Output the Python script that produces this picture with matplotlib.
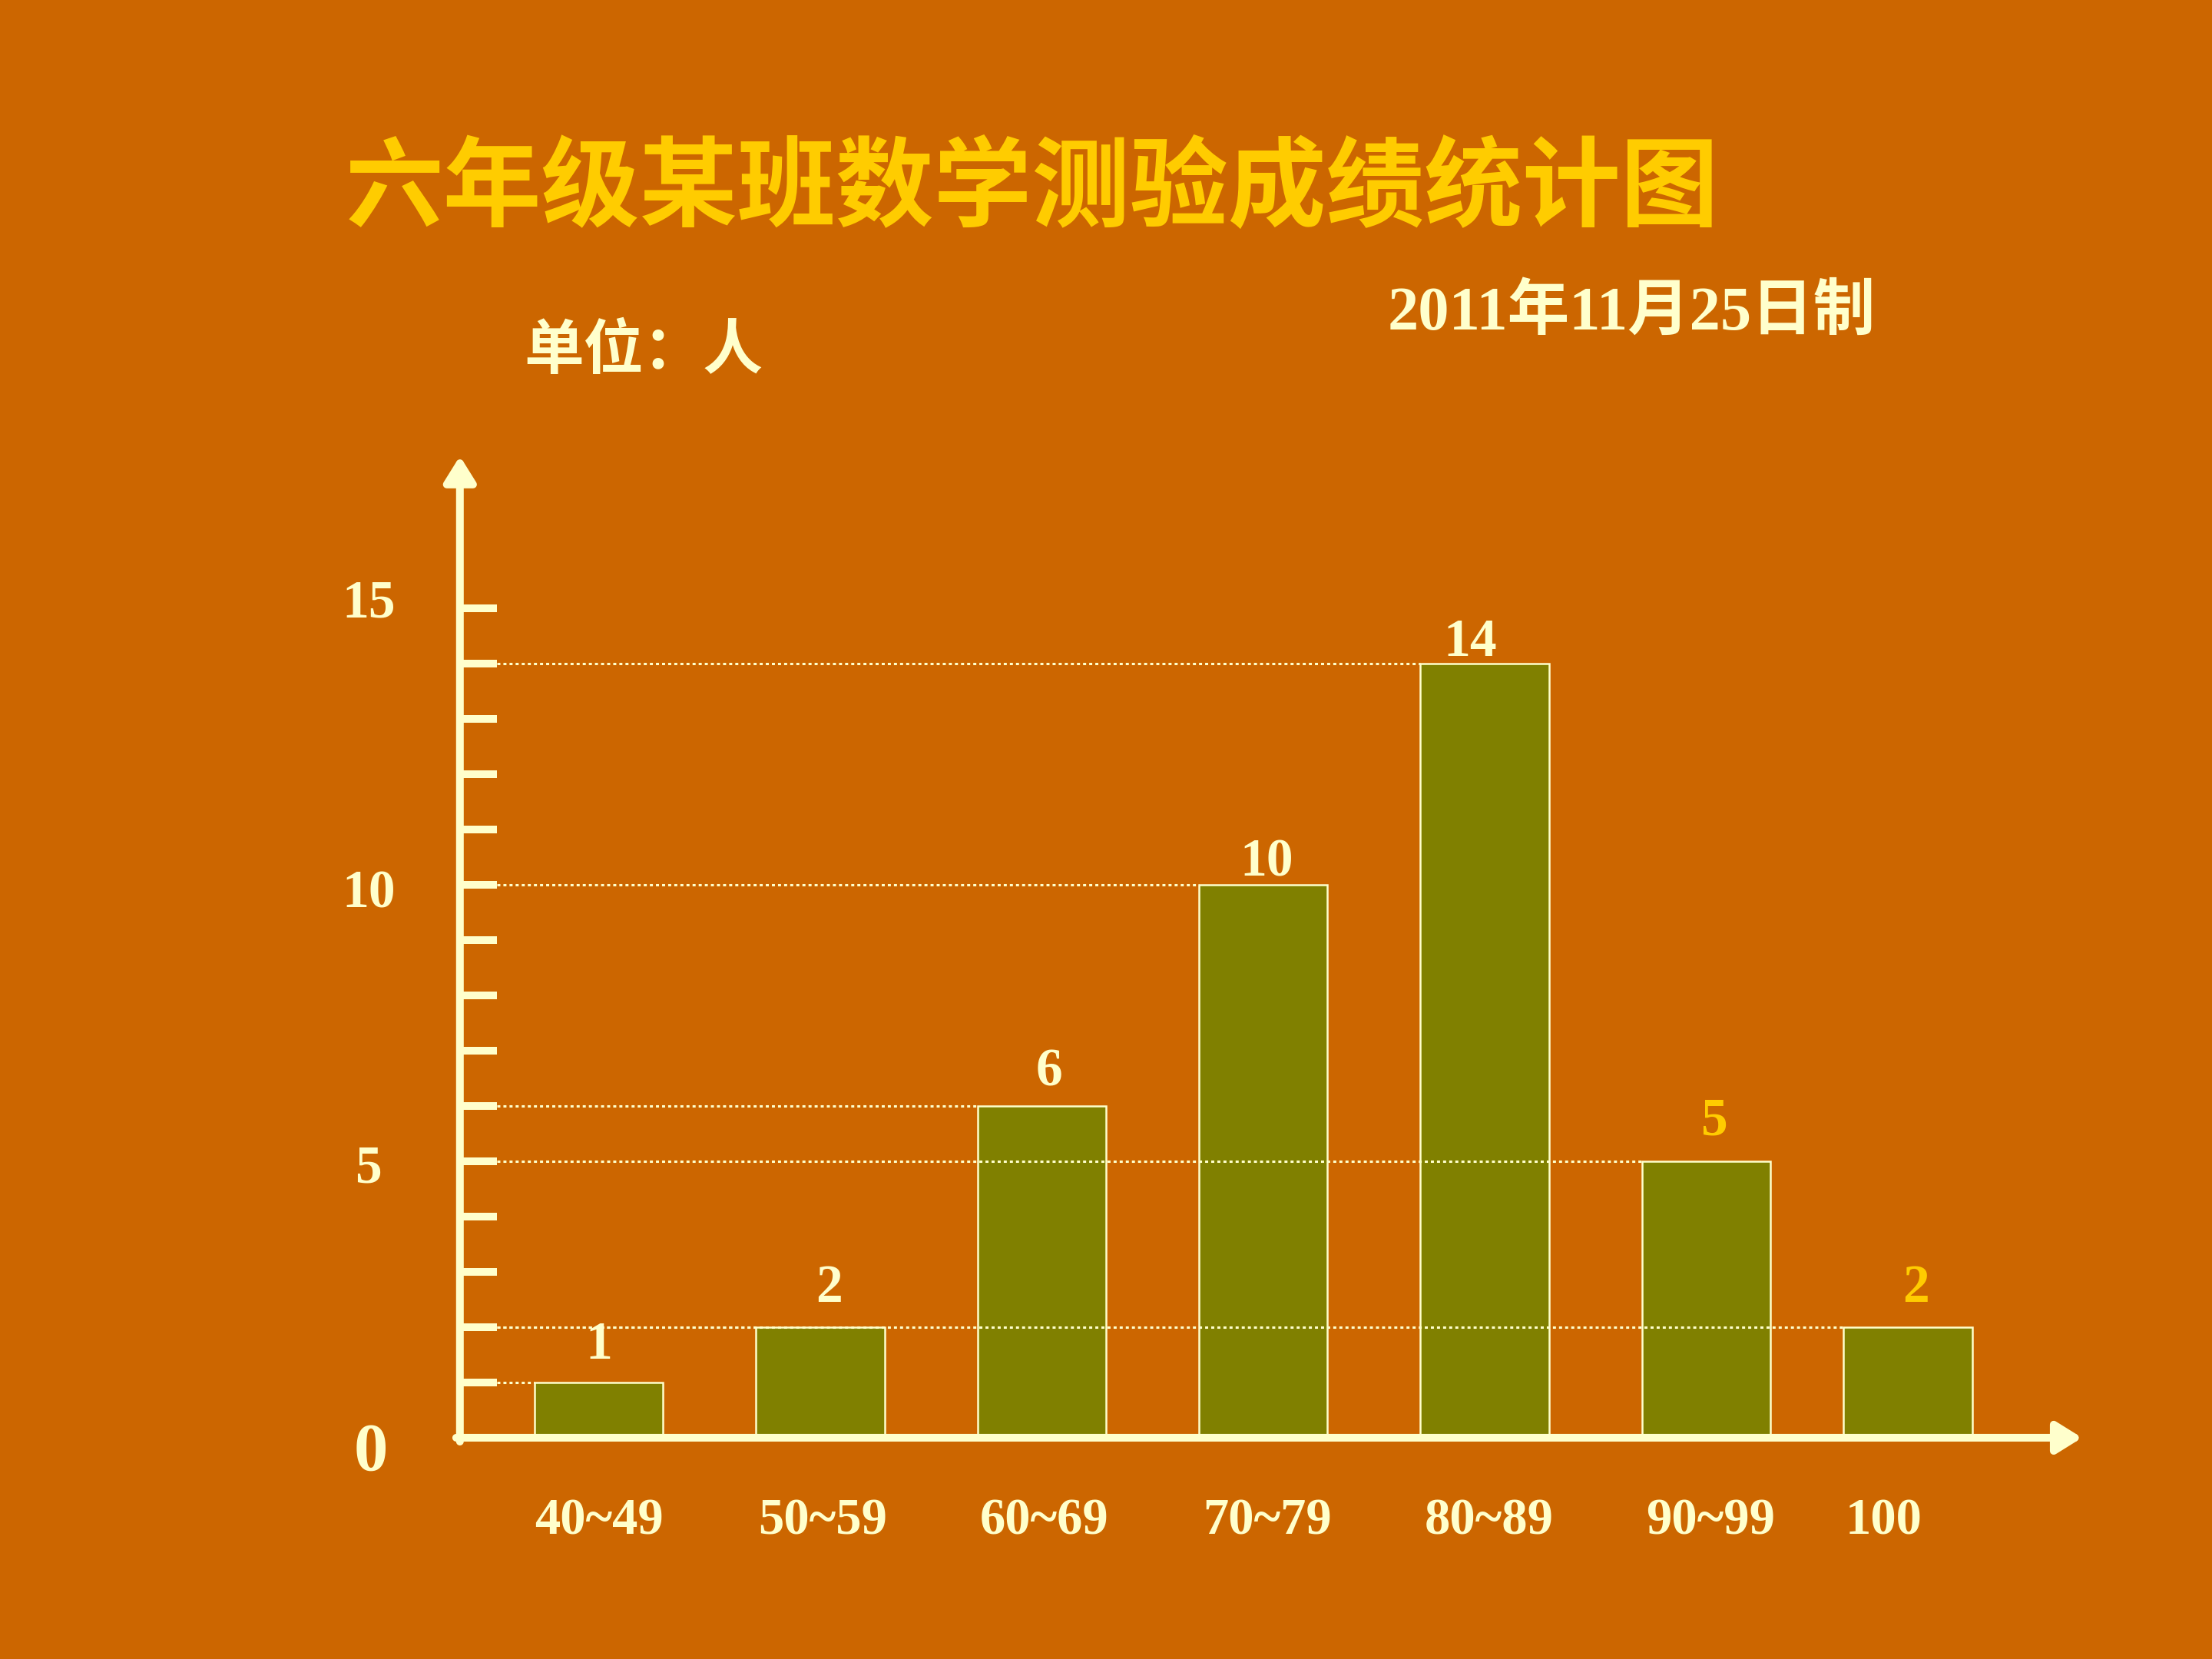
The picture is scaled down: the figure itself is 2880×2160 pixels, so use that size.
import numpy as np
import matplotlib
matplotlib.use('Agg')
import matplotlib.pyplot as plt

# data
categories = ['40~49', '50~59', '60~69', '70~79', '80~89', '90~99', '100']
counts = [1, 2, 6, 10, 14, 5, 2]
y_ticks = [5, 10, 15]
title = '六年级某班数学测验成绩统计图'
date_note = '2011年11月25日制'
unit_note = '单位：人'

# colours
BG = '#CC6600'
CREAM = '#FFFFCC'
GOLD = '#FFCC00'
OLIVE = '#808000'
label_colors = [CREAM, CREAM, CREAM, CREAM, CREAM, GOLD, GOLD]

# layout (data units)
xpos = np.arange(len(categories), dtype=float)
xpos[-1] -= 0.09
bar_w = 0.58
x_axis = -0.627
tick_len = 0.166
label_dx = [0.0, 0.04, 0.035, 0.016, -0.067, 0.035, 0.035]
label_dy = [0.66, 0.7, 0.6, 0.4, 0.38, 0.72, 0.7]
cat_dx = [0.0, 0.01, 0.01, 0.02, 0.02, 0.02, -0.11]
tick_dy = [-0.15, -0.18, 0.08]

SERIF = ['Liberation Serif', 'Noto Sans CJK SC']
CJK = ['Noto Sans CJK SC', 'DejaVu Sans']
ARROW = dict(arrowstyle='-|>,head_length=0.45,head_width=0.28',
             mutation_scale=22, color=CREAM, lw=3.6, shrinkA=0, shrinkB=0)

fig = plt.figure(figsize=(14.4, 10.8), dpi=200, facecolor=BG)
ax = fig.add_axes([0.1956, 0.1167, 0.7610, 0.6167])
ax.set_facecolor(BG)
ax.set_xlim(-0.75, 6.85)
ax.set_ylim(-0.5, 18)
ax.axis('off')

# bars
ax.bar(xpos, counts, width=bar_w, color=OLIVE, edgecolor=CREAM,
       linewidth=0.9, zorder=2)

# dotted guide lines from the axis to each bar
for x, v in zip(xpos, counts):
    ax.plot([x_axis + tick_len, x - bar_w / 2], [v, v], color=CREAM,
            linewidth=1.1, linestyle=(0, (1.3, 1.3)), zorder=3,
            dash_capstyle='butt')

# axes with arrows
ax.annotate('', xy=(x_axis, 17.75), xytext=(x_axis, -0.07),
            arrowprops=ARROW, zorder=4, annotation_clip=False)
ax.annotate('', xy=(6.697, 0), xytext=(x_axis - 0.017, 0),
            arrowprops=ARROW, zorder=4, annotation_clip=False)

# tick marks
for t in range(1, 16):
    ax.plot([x_axis, x_axis + tick_len], [t, t], color=CREAM, lw=3.6,
            solid_capstyle='butt', zorder=4)

# tick labels
for t, dy in zip(y_ticks, tick_dy):
    ax.text(-1.04, t + dy, str(t), color=CREAM, fontsize=25,
            fontweight='bold', family=SERIF, ha='center', va='center')
ax.text(-1.03, -0.28, '0', color=CREAM, fontsize=32, fontweight='bold',
        family=SERIF, ha='center', va='center')

# value labels
for x, v, c, dx, dy in zip(xpos, counts, label_colors, label_dx, label_dy):
    ax.text(x + dx, v + dy, str(v), color=c, fontsize=25, fontweight='bold',
            family=SERIF, ha='center', va='center', zorder=5)

# category labels
for x, name, dx in zip(xpos, categories, cat_dx):
    ax.text(x + dx, -1.51, name, color=CREAM, fontsize=24, fontweight='bold',
            family=SERIF, ha='center', va='center')

# titles
fig.text(0.4665, 0.8855, title, color=GOLD, fontsize=46, fontweight='bold',
         family=CJK, ha='center', va='center')
fig.text(0.7376, 0.8112, date_note, color=CREAM, fontsize=29,
         fontweight='bold', family=SERIF, ha='center', va='center')
fig.text(0.2908, 0.7885, unit_note, color=CREAM, fontsize=28,
         fontweight='bold', family=CJK, ha='center', va='center')

fig.savefig('out.png', dpi=200, facecolor=BG)
